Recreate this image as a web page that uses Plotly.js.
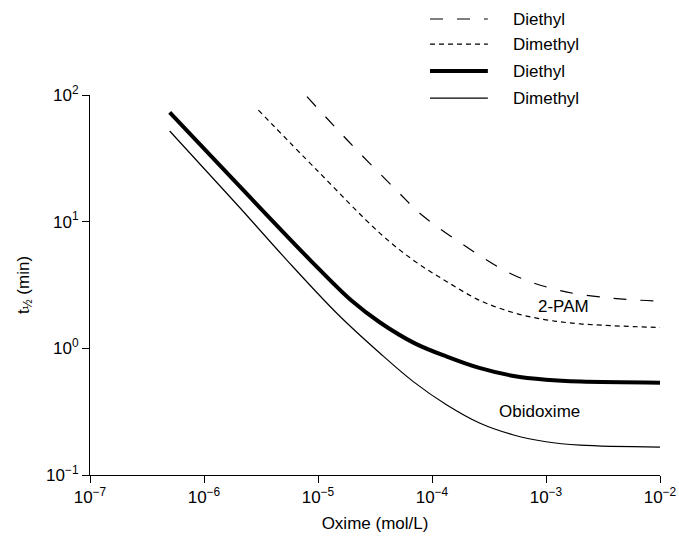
<!DOCTYPE html>
<html>
<head>
<meta charset="utf-8">
<script src="https://cdn.plot.ly/plotly-3.0.1.min.js"></script>
<style>html,body{margin:0;padding:0;background:#fff;}#chart{width:679px;height:540px;}</style>
</head>
<body>
<div id="chart"></div>
<script>
// 2-PAM, diethyl (long dashes)
var pamDiethylX = [8e-6, 2e-5, 5.2e-5, 7.85e-5, 2.0e-4, 5.2e-4, 1.37e-3, 3.9e-3, 1e-2];
var pamDiethylY = [97, 40, 16.7, 11.6, 6.34, 3.79, 2.84, 2.48, 2.36];
// 2-PAM, dimethyl (short dashes)
var pamDimethylX = [3e-6, 1e-5, 3.5e-5, 7e-5, 1.35e-4, 2.6e-4, 5.2e-4, 1e-3, 2e-3, 1e-2];
var pamDimethylY = [76, 25, 8.09, 4.9, 3.36, 2.4, 1.91, 1.68, 1.56, 1.46];
// Obidoxime, diethyl (thick solid)
var obiDiethylX = [5e-7, 2e-6, 8.5e-6, 2e-5, 3.5e-5, 7e-5, 1.35e-4, 2.6e-4, 5.2e-4, 1e-3, 2e-3, 1e-2];
var obiDiethylY = [73, 19.5, 5.0, 2.35, 1.6, 1.1, 0.86, 0.7, 0.605, 0.565, 0.546, 0.536];
// Obidoxime, dimethyl (thin solid)
var obiDimethylX = [5e-7, 2e-6, 5.3e-6, 1.5e-5, 3.5e-5, 6.85e-5, 1.35e-4, 2.64e-4, 5.2e-4, 1e-3, 2e-3, 1e-2];
var obiDimethylY = [52, 13.3, 5.0, 1.85, 0.914, 0.546, 0.357, 0.256, 0.207, 0.183, 0.172, 0.166];

var legendLabels = ["Diethyl", "Dimethyl", "Diethyl", "Dimethyl"];
var curveLabels = ["2-PAM", "Obidoxime"];
var xTickVals = [1e-7, 1e-6, 1e-5, 1e-4, 1e-3, 1e-2];
var xTickText = ["10<sup>−7</sup>", "10<sup>−6</sup>", "10<sup>−5</sup>", "10<sup>−4</sup>", "10<sup>−3</sup>", "10<sup>−2</sup>"];
var yTickVals = [0.1, 1, 10, 100];
var yTickText = ["10<sup>−1</sup>", "10<sup>0</sup>", "10<sup>1</sup>", "10<sup>2</sup>"];
var xTitle = "Oxime (mol/L)";
var yTitle = "t<sub>½</sub> (min)";

var FONT = "'Liberation Sans', Arial, Helvetica, sans-serif";

var styles = [
  {color: "#000", width: 1.2, dash: "13px,14px"},
  {color: "#000", width: 1.2, dash: "5px,4px"},
  {color: "#000", width: 4, dash: "solid"},
  {color: "#000", width: 1.2, dash: "solid"}
];

var series = [
  [pamDiethylX, pamDiethylY],
  [pamDimethylX, pamDimethylY],
  [obiDiethylX, obiDiethylY],
  [obiDimethylX, obiDimethylY]
];

var traces = series.map(function (s, i) {
  return {
    x: s[0], y: s[1], type: "scatter", mode: "lines",
    name: legendLabels[i],
    line: {color: styles[i].color, width: styles[i].width, dash: styles[i].dash, shape: "spline", smoothing: 1},
    showlegend: false, hoverinfo: "skip"
  };
});

var legendRowsY = [1.2, 1.134, 1.063, 0.992];
var shapes = [];
var annotations = [];
legendLabels.forEach(function (lab, i) {
  shapes.push({
    type: "line", xref: "paper", yref: "paper",
    x0: 0.5965, x1: 0.698, y0: legendRowsY[i], y1: legendRowsY[i],
    line: {color: styles[i].color, width: styles[i].width, dash: styles[i].dash}
  });
  annotations.push({
    xref: "paper", yref: "paper", x: 0.738, y: legendRowsY[i],
    xanchor: "left", yanchor: "middle", text: lab, showarrow: false,
    font: {family: FONT, size: 17, color: "#000"}
  });
});
annotations.push({
  xref: "paper", yref: "paper", x: 0.830, y: 0.4447, xanchor: "center", yanchor: "middle",
  text: curveLabels[0], showarrow: false, font: {family: FONT, size: 17, color: "#000"}
});
annotations.push({
  xref: "paper", yref: "paper", x: 0.788, y: 0.166, xanchor: "center", yanchor: "middle",
  text: curveLabels[1], showarrow: false, font: {family: FONT, size: 17, color: "#000"}
});

var layout = {
  width: 679, height: 540,
  margin: {l: 90, r: 19, t: 95, b: 65, pad: 0},
  paper_bgcolor: "#fff", plot_bgcolor: "#fff",
  font: {family: FONT, size: 17, color: "#000"},
  showlegend: false,
  xaxis: {
    type: "log", range: [-7, -2], tickmode: "array", tickvals: xTickVals, ticktext: xTickText,
    showgrid: false, zeroline: false, showline: true, linecolor: "#000", linewidth: 1,
    ticks: "outside", ticklen: 7, tickwidth: 1, tickcolor: "#000",
    tickfont: {family: FONT, size: 17, color: "#000"},
    title: {text: xTitle, font: {family: FONT, size: 17, color: "#000"}, standoff: 10}
  },
  yaxis: {
    type: "log", range: [-1, 2], tickmode: "array", tickvals: yTickVals, ticktext: yTickText,
    showgrid: false, zeroline: false, showline: true, linecolor: "#000", linewidth: 1,
    ticks: "outside", ticklen: 7, tickwidth: 1, tickcolor: "#000",
    tickfont: {family: FONT, size: 17, color: "#000"},
    title: {text: yTitle, font: {family: FONT, size: 17, color: "#000"}, standoff: 12}
  },
  shapes: shapes,
  annotations: annotations
};

Plotly.newPlot("chart", traces, layout, {staticPlot: true, displayModeBar: false});
</script>
</body>
</html>
